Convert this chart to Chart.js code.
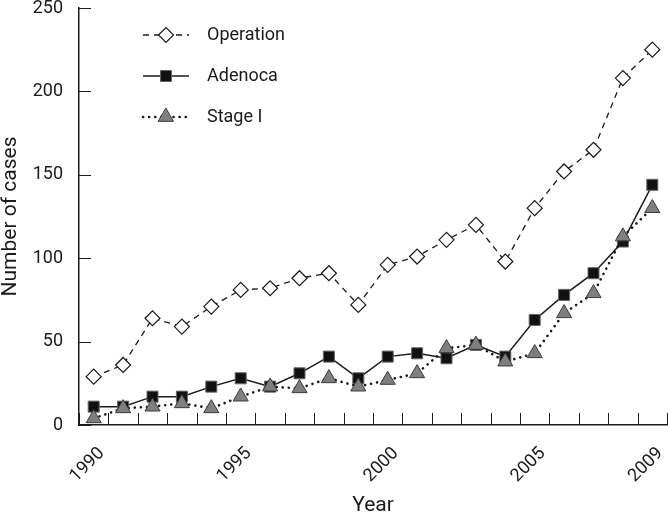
<!DOCTYPE html>
<html>
<head>
<meta charset="utf-8">
<script src="https://cdn.jsdelivr.net/npm/chart.js@4/dist/chart.umd.min.js"></script>
<style>
  body { margin: 0; background: #fff; }
  canvas { display: block; }
</style>
</head>
<body>
<canvas id="casesChart" width="668" height="516"></canvas>
<script>
const years = ['1990', '1991', '1992', '1993', '1994', '1995', '1996', '1997', '1998', '1999',
               '2000', '2001', '2002', '2003', '2004', '2005', '2006', '2007', '2008', '2009'];
const shownYears = ['1990', '1995', '2000', '2005', '2009'];
const operation = [29, 36, 64, 59, 71, 81, 82, 88, 91, 72, 96, 101, 111, 120, 98, 130, 152, 165, 208, 225];
const adenoca   = [11, 11, 17, 17, 23, 28, 23, 31, 41, 28, 41, 43, 40, 48, 41, 63, 78, 91, 110, 144];
const stageI    = [4, 10, 11, 13, 10, 17, 23, 22, 28, 23, 27, 31, 46, 48, 38, 43, 67, 79, 113, 130];
const yTicks = [0, 50, 100, 150, 200, 250];

const font = 'Roboto, "Liberation Sans", sans-serif';
const ink = '#1a1a1a';

// tick marks point inward, drawn from the scales
const innerTicks = {
  id: 'innerTicks',
  beforeDatasetsDraw(chart) {
    const ctx = chart.ctx;
    const xs = chart.scales.x, ys = chart.scales.y;
    const area = chart.chartArea;
    const step = xs.getPixelForValue(1) - xs.getPixelForValue(0);
    ctx.save();
    ctx.strokeStyle = ink;
    ctx.lineWidth = 1;
    ctx.beginPath();
    for (let i = 0; i <= years.length; i++) {
      const px = Math.round(xs.getPixelForValue(0) - step / 2 + i * step) + 0.5;
      ctx.moveTo(px, area.bottom);
      ctx.lineTo(px, area.bottom - 12);
    }
    yTicks.forEach(v => {
      const py = Math.round(ys.getPixelForValue(v)) + 0.5;
      ctx.moveTo(area.left, py);
      ctx.lineTo(area.left + 12, py);
    });
    ctx.stroke();
    ctx.restore();
  }
};

const insideLegend = {
  id: 'insideLegend',
  afterDraw(chart) {
    const ctx = chart.ctx;
    chart.data.datasets.forEach((ds, i) => {
      const y = 35 + i * 41;
      ctx.save();
      ctx.strokeStyle = ds.borderColor;
      ctx.lineWidth = ds.borderWidth;
      ctx.lineCap = ds.borderCapStyle || 'butt';
      ctx.setLineDash(ds.borderDash || []);
      ctx.beginPath();
      ctx.moveTo(143, y);
      ctx.lineTo(189, y);
      ctx.stroke();
      ctx.setLineDash([]);
      ctx.fillStyle = ds.pointBackgroundColor;
      ctx.strokeStyle = ds.pointBorderColor;
      ctx.lineWidth = ds.pointBorderWidth;
      Chart.helpers.drawPoint(ctx, {
        pointStyle: ds.pointStyle, rotation: 0,
        radius: ds.pointRadius, borderWidth: ds.pointBorderWidth
      }, 166, y);
      ctx.fillStyle = ink;
      ctx.font = '18px ' + font;
      ctx.textAlign = 'left';
      ctx.textBaseline = 'middle';
      ctx.fillText(ds.label, 207, y);
      ctx.restore();
    });
  }
};

new Chart(document.getElementById('casesChart'), {
  type: 'line',
  data: {
    labels: years,
    datasets: [{
      label: 'Operation',
      data: operation,
      borderColor: ink,
      borderWidth: 1.3,
      borderDash: [6, 5],
      pointStyle: 'rectRot',
      pointRadius: 7.5,
      pointBackgroundColor: '#ffffff',
      pointBorderColor: ink,
      pointBorderWidth: 1.2,
      clip: false,
      order: 2
    }, {
      label: 'Adenoca',
      data: adenoca,
      borderColor: ink,
      borderWidth: 1.5,
      pointStyle: 'rect',
      pointRadius: 7.8,
      pointBackgroundColor: '#111111',
      pointBorderColor: '#666666',
      pointBorderWidth: 1,
      clip: false,
      order: 1
    }, {
      label: 'Stage I',
      data: stageI,
      borderColor: ink,
      borderWidth: 2.6,
      borderDash: [0.1, 6],
      borderCapStyle: 'round',
      pointStyle: 'triangle',
      pointRadius: 8.7,
      pointBackgroundColor: '#7f7f7f',
      pointBorderColor: '#3c3c3c',
      pointBorderWidth: 1,
      clip: false,
      order: 0
    }]
  },
  options: {
    responsive: false,
    animation: false,
    layout: { autoPadding: false, padding: { top: 8, right: 1, left: 0, bottom: 0 } },
    plugins: {
      legend: { display: false },
      tooltip: { enabled: false }
    },
    scales: {
      x: {
        type: 'category',
        offset: true,
        grid: { display: true, drawOnChartArea: false, drawTicks: false, offset: true },
        border: { display: true, color: ink, width: 1.5 },
        ticks: {
          autoSkip: false,
          minRotation: 45,
          maxRotation: 45,
          padding: 18,
          labelOffset: 8,
          color: ink,
          font: { family: font, size: 18 },
          callback: function (value) {
            const lab = this.getLabelForValue(value);
            return shownYears.includes(lab) ? lab : '';
          }
        },
        title: {
          display: true,
          text: 'Year',
          color: ink,
          font: { family: font, size: 21, lineHeight: 1 },
          padding: { top: 0, bottom: 0 }
        },
        afterFit(scale) {
          scale.height = 91;
          scale.paddingLeft = 0;
          scale.paddingRight = 0;
        }
      },
      y: {
        min: 0,
        max: 250,
        grid: { display: true, drawOnChartArea: false, drawTicks: false },
        border: { display: true, color: ink, width: 1.5 },
        ticks: {
          stepSize: 50,
          padding: 16,
          color: ink,
          font: { family: font, size: 18 }
        },
        title: {
          display: true,
          text: 'Number of cases',
          color: ink,
          font: { family: font, size: 21, lineHeight: 1 },
          padding: { top: 0, bottom: 0 }
        },
        afterFit(scale) {
          scale.width = 79;
          scale.paddingTop = 0;
          scale.paddingBottom = 0;
        }
      }
    }
  },
  plugins: [innerTicks, insideLegend]
});
</script>
</body>
</html>
